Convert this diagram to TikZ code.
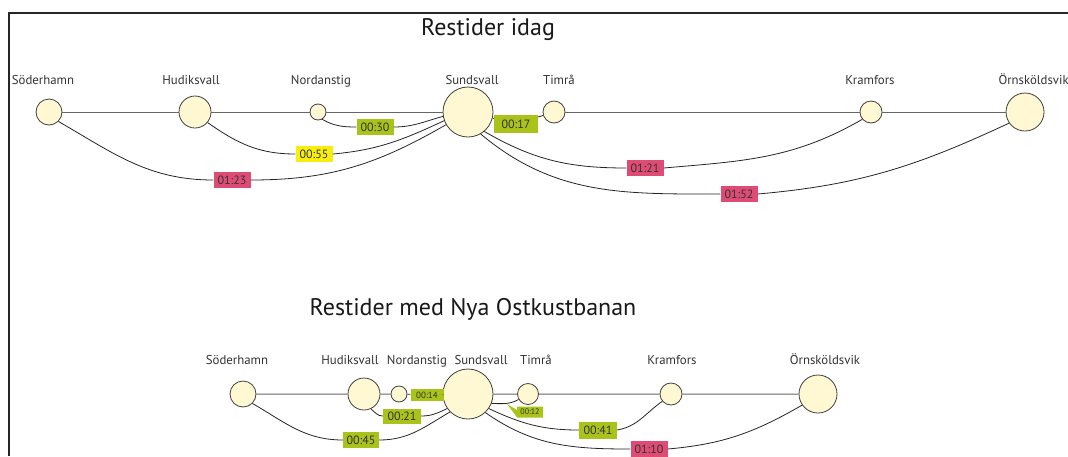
\documentclass[tikz,border=0pt]{standalone}
\usepackage{fontspec}
\setmainfont{PT Sans}
\usetikzlibrary{shapes.callouts}
\definecolor{cream}{HTML}{FFF8D2}
\definecolor{tgreen}{HTML}{A9C31A}
\definecolor{tyellow}{HTML}{F7EE10}
\definecolor{tred}{HTML}{DE4C76}
\definecolor{ink}{HTML}{333333}
\begin{document}
\begin{tikzpicture}[x=1pt,y=-1pt,
  city/.style={circle,draw=black!75,fill=cream,line width=0.8pt,inner sep=0pt,minimum size=#1},
  lbl/.style={anchor=base,font=\fontsize{12.8}{14}\selectfont,text=ink},
  ttl/.style={anchor=base,font=\fontsize{24}{27}\selectfont,text=black!90},
  tbox/.style={fill=#1,inner sep=0pt,minimum width=37pt,minimum height=16pt,font=\fontsize{12}{13}\selectfont,text=ink},
  sbox/.style={fill=tgreen,inner sep=0pt,minimum width=33pt,minimum height=12pt,font=\fontsize{9}{10}\selectfont,text=ink},
  link/.style={draw=black!85,line width=0.8pt},
  mainline/.style={draw=black!60,line width=1pt}]
\path[use as bounding box] (0,0) rectangle (1068,456);
\fill[white] (0,0) rectangle (1068,456);
\draw[line width=2pt,black!85] (9,456) -- (9,13) -- (1068,13);

% ---------- top: Restider idag ----------
\node[ttl] (t1) at (488,35) {Restider idag};

\node[city=26pt] (So) at (49,112) {};
\node[city=32pt] (Hu) at (195,112) {};
\node[city=16pt] (No) at (318,112) {};
\node[city=50pt] (Su) at (468,112) {};
\node[city=22pt] (Ti) at (554,112) {};
\node[city=22pt] (Kr) at (871,112) {};
\node[city=38pt] (Om) at (1025,112) {};

\node[lbl] (lSo) at (43,84) {Söderhamn};
\node[lbl] (lHu) at (191,84) {Hudiksvall};
\node[lbl] (lNo) at (321,84) {Nordanstig};
\node[lbl] (lSu) at (472,84) {Sundsvall};
\node[lbl] (lTi) at (559,84) {Timrå};
\node[lbl] (lKr) at (870,84) {Kramfors};
\node[lbl,anchor=base west] (lOm) at (995,84) {Örnsköldsvik};

\node[tbox=tgreen] (l030) at (375,127) {00:30};
\node[tbox=tyellow] (l055) at (314,154) {00:55};
\node[tbox=tred] (l123) at (232,180) {01:23};
\node[tbox=tgreen,minimum width=44pt,minimum height=18pt] (l017) at (516,124) {00:17};
\node[tbox=tred] (l121) at (645,168) {01:21};
\node[tbox=tred] (l152) at (739,194) {01:52};

\draw[mainline] (So) -- (Hu) -- (No) -- (Su);
\draw[mainline] (Ti) -- (Kr) -- (Om);
\draw[link] (Su) -- (l017) -- (Ti);

\draw[link] (No.-60) to[out=-30,in=180] (l030.west);
\draw[link] (l030.east) to[out=0,in=195] (Su.190);
\draw[link] (Hu.-40) to[out=-35,in=180] (l055.west);
\draw[link] (l055.east) to[out=5,in=205] (Su.200);
\draw[link] (So.-45) to[out=-30,in=180] (l123.west);
\draw[link] (l123.east) to[out=0,in=210] (Su.210);
\draw[link] (Su.-50) to[out=-30,in=180] (l121.west);
\draw[link] (l121.east) to[out=5,in=-150] (Kr.-140);
\draw[link] (Su.-60) to[out=-40,in=180] (l152.west);
\draw[link] (l152.east) to[out=5,in=-155] (Om.-145);

% ---------- bottom: Restider med Nya Ostkustbanan ----------
\node[ttl] (t2) at (473,315) {Restider med Nya Ostkustbanan};

\node[city=26pt] (So2) at (243,394) {};
\node[city=32pt] (Hu2) at (364,394) {};
\node[city=16pt] (No2) at (399,394) {};
\node[city=50pt] (Su2) at (468,394) {};
\node[city=21pt] (Ti2) at (528,394) {};
\node[city=22pt] (Kr2) at (671,394) {};
\node[city=38pt] (Om2) at (818,394) {};

\node[lbl] (lSo2) at (237,364) {Söderhamn};
\node[lbl] (lHu2) at (350,364) {Hudiksvall};
\node[lbl] (lNo2) at (417,364) {Nordanstig};
\node[lbl] (lSu2) at (481,364) {Sundsvall};
\node[lbl] (lTi2) at (536,364) {Timrå};
\node[lbl] (lKr2) at (672,364) {Kramfors};
\node[lbl] (lOm2) at (825,364) {Örnsköldsvik};

\node[sbox] (l014) at (427,395) {00:14};
\node[tbox=tgreen,minimum width=38pt,minimum height=15pt] (l021) at (402,416) {00:21};
\node[tbox=tgreen,minimum width=36pt] (l045) at (361,440) {00:45};
\node[tbox=tgreen,minimum width=38pt,minimum height=17pt] (l041) at (598,430) {00:41};
\node[tbox=tred,minimum height=17pt] (l110) at (649,449) {01:10};

\draw[mainline] (So2) -- (Hu2) -- (No2) -- (l014) -- (Su2) -- (Ti2) -- (Kr2) -- (Om2);

\draw[link] (Hu2.-65) to[out=-40,in=180] (l021.west);
\draw[link] (l021.east) to[out=0,in=205] (Su2.215);
\draw[link] (So2.-45) to[out=-30,in=180] (l045.west);
\draw[link] (l045.east) to[out=0,in=210] (Su2.225);
\draw[link] (Su2.-22) to[out=0,in=-150] (Ti2.-150);
\draw[link] (Su2.-35) to[out=-25,in=180] (l041.west);
\draw[link] (l041.east) to[out=10,in=-145] (Kr2.-140);
\draw[link] (Su2.-47) to[out=-35,in=180] (l110.west);
\draw[link] (l110.east) to[out=5,in=-150] (Om2.-145);

\node[rectangle callout,fill=tgreen,inner sep=0pt,minimum width=26pt,minimum height=11pt,
      callout absolute pointer={(507,404)},font=\fontsize{8}{9}\selectfont,text=ink] (l012) at (530,412) {00:12};
\end{tikzpicture}
\end{document}
